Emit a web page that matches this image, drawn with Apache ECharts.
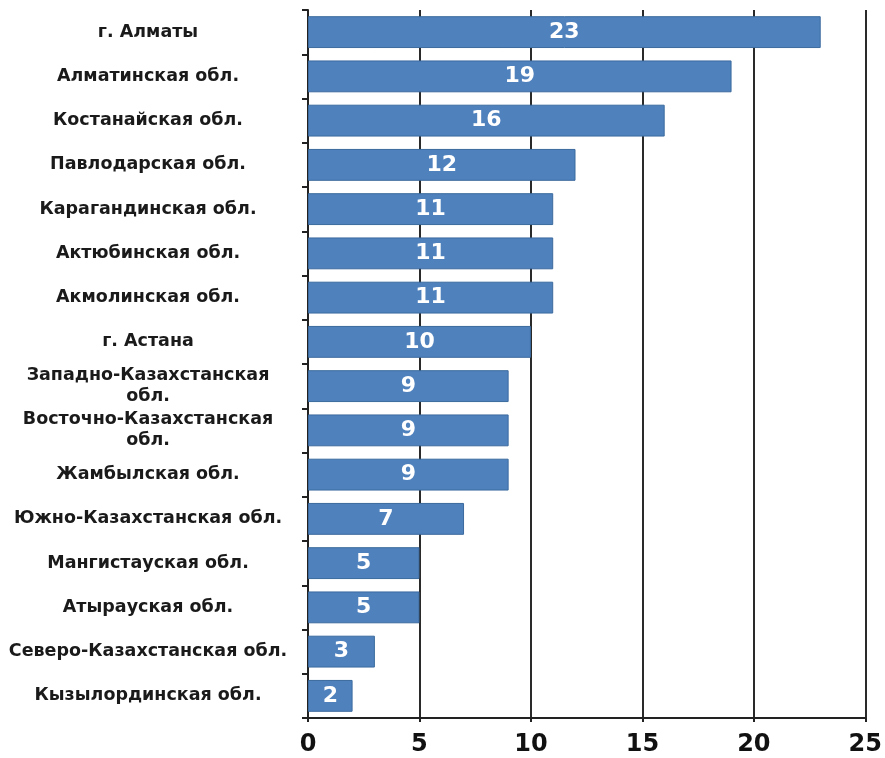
<!DOCTYPE html>
<html><head><meta charset="utf-8">
<script src="https://cdn.jsdelivr.net/npm/echarts@6/dist/echarts.min.js"></script>
<style>html,body{margin:0;padding:0;background:#fff}#c{width:885px;height:758px}</style>
</head><body><div id="c"></div>
<script>
var categories = ["г. Алматы","Алматинская обл.","Костанайская обл.","Павлодарская обл.","Карагандинская обл.","Актюбинская обл.","Акмолинская обл.","г. Астана","Западно-Казахстанская\nобл.","Восточно-Казахстанская\nобл.","Жамбылская обл.","Южно-Казахстанская обл.","Мангистауская обл.","Атырауская обл.","Северо-Казахстанская обл.","Кызылординская обл."];
var values = [23,19,16,12,11,11,11,10,9,9,9,7,5,5,3,2];
var xTicks = [0,5,10,15,20,25];

var chart = echarts.init(document.getElementById('c'));
chart.setOption({
  animation:false,
  grid:{left:308,right:14,top:10,bottom:40,containLabel:false},
  xAxis:{type:'value',min:xTicks[0],max:xTicks[xTicks.length-1],interval:xTicks[1]-xTicks[0],
    axisLine:{show:true,lineStyle:{color:'#222',width:2}},
    axisTick:{show:true,length:4,lineStyle:{color:'#222',width:2}},
    splitLine:{show:true,lineStyle:{color:'#2a2a2a',width:2}},
    axisLabel:{color:'#111',fontFamily:'DejaVu Sans',fontWeight:'bold',fontSize:24,margin:15}},
  yAxis:{type:'category',data:categories,inverse:true,
    axisLine:{show:true,lineStyle:{color:'#222',width:2}},
    axisTick:{show:true,length:6,alignWithLabel:false,lineStyle:{color:'#222',width:2}},
    axisLabel:{color:'#1a1a1a',fontFamily:'DejaVu Sans',fontWeight:'bold',fontSize:17.5,align:'center',margin:160,lineHeight:21}},
  series:[{type:'bar',data:values,barCategoryGap:'28%',
    itemStyle:{color:'#4f81bd',borderColor:'#3b6a9e',borderWidth:1},
    label:{show:true,position:'inside',color:'#fff',fontFamily:'DejaVu Sans',fontWeight:'bold',fontSize:22}}]
});
</script></body></html>
